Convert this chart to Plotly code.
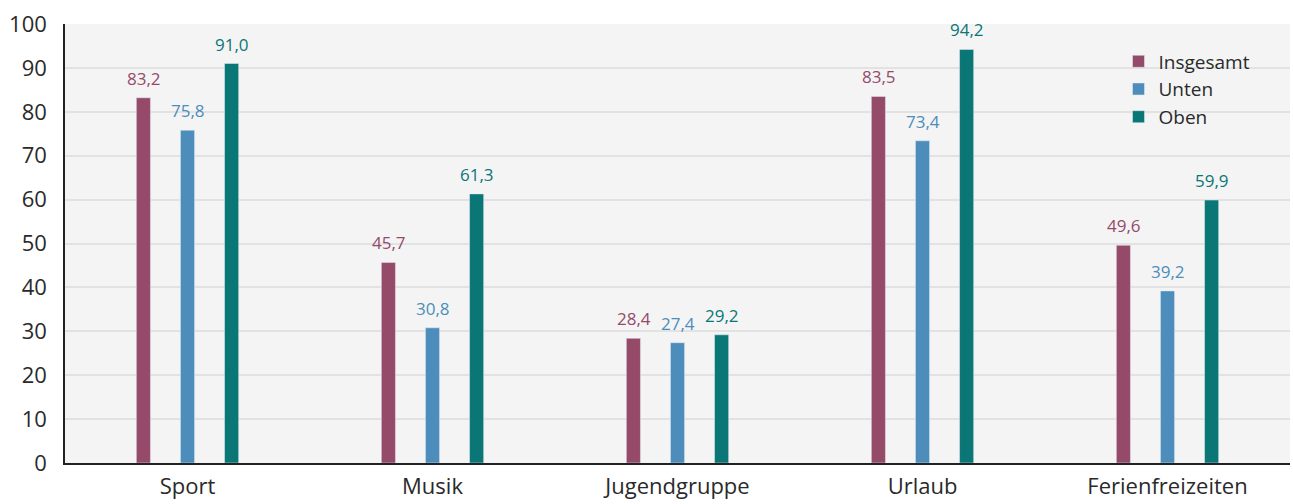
import plotly.graph_objects as go

categories = ["Sport", "Musik", "Jugendgruppe", "Urlaub", "Ferienfreizeiten"]
insgesamt = [83.2, 45.7, 28.4, 83.5, 49.6]
unten = [75.8, 30.8, 27.4, 73.4, 39.2]
oben = [91.0, 61.3, 29.2, 94.2, 59.9]
series = [("Insgesamt", insgesamt, "#954A6A"), ("Unten", unten, "#4D8DBB"), ("Oben", oben, "#0A7676")]
y_ticks = list(range(0, 101, 10))

FONT = "Open Sans, sans-serif"

fig = go.Figure()
annotations = []
for i, (name, vals, col) in enumerate(series):
    fig.add_trace(go.Bar(x=categories, y=vals, name=name, marker_color=col))
    for c, v in zip(categories, vals):
        annotations.append(dict(
            x=c, y=v, xref="x", yref="y", text=f"{v:.1f}".replace(".", ","),
            showarrow=False, xanchor="center", yanchor="bottom",
            xshift=(i - 1) * 44, yshift=6,
            font=dict(color=col, size=17, family=FONT),
        ))

fig.update_layout(
    width=1293, height=504,
    margin=dict(l=65, r=3, t=24, b=41, autoexpand=False),
    paper_bgcolor="white", plot_bgcolor="#F4F4F4",
    font=dict(family=FONT, color="#2a2a2a"),
    barmode="group", bargap=0.46, bargroupgap=0.68,
    showlegend=True,
    annotations=annotations,
    legend=dict(x=0.86, y=0.958, xanchor="left", yanchor="top",
                bgcolor="rgba(0,0,0,0)", font=dict(size=19), tracegroupgap=0,
                itemwidth=30),
    xaxis=dict(showline=True, linecolor="#222222", linewidth=1.5, automargin=False,
               tickfont=dict(size=22), ticks="", showgrid=False,
               ticklabelstandoff=3),
    yaxis=dict(range=[0, 100], tickvals=y_ticks, showline=True, linecolor="#222222",
               linewidth=1.5, gridcolor="#E2E2E2", gridwidth=1.5, ticklabelstandoff=12,
               automargin=False, tickfont=dict(size=22), ticks="", zeroline=False),
)
fig.write_html("out.html", config={"displayModeBar": False},
               post_script="document.body.style.margin='0';document.body.style.overflow='hidden';")
